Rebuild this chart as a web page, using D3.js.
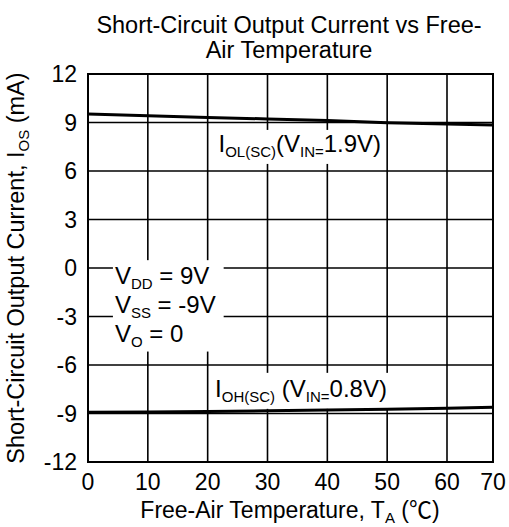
<!DOCTYPE html>
<html>
<head>
<meta charset="utf-8">
<script src="https://cdn.jsdelivr.net/npm/d3@7"></script>
<style>
  body { margin: 0; background: #fff; }
  svg text { font-family: "Liberation Sans", Arial, sans-serif; fill: #000; }
</style>
</head>
<body>
<svg width="509" height="527"></svg>
<script>
// values
var temps = [0, 10, 20, 30, 40, 50, 60, 70];
var iolValues = [9.53, 9.42, 9.31, 9.22, 9.12, 8.98, 8.91, 8.85];   // I_OL(SC), V_IN = 1.9V
var iohValues = [-8.92, -8.90, -8.87, -8.83, -8.79, -8.73, -8.68, -8.62]; // I_OH(SC), V_IN = 0.8V
var xTicks = [0, 10, 20, 30, 40, 50, 60, 70];
var yTicks = [-12, -9, -6, -3, 0, 3, 6, 9, 12];

var svg = d3.select("svg");

// the last decade on the original x axis is squeezed, so the scale is piecewise
var x = d3.scaleLinear().domain([0, 60, 70]).range([88, 447, 493]);
var y = d3.scaleLinear().domain([-12, 12]).range([462, 74]);

var grid = svg.append("g");
var notes = svg.append("g");
var lines = svg.append("g");

// grid
grid.selectAll(".vgrid")
  .data(xTicks.slice(1, -1))
  .enter().append("line")
  .attr("x1", d => x(d)).attr("x2", d => x(d))
  .attr("y1", y(12)).attr("y2", y(-12))
  .attr("stroke", "#000").attr("stroke-width", 1.6);

grid.selectAll(".hgrid")
  .data(yTicks.slice(1, -1))
  .enter().append("line")
  .attr("x1", x(0)).attr("x2", x(70))
  .attr("y1", d => y(d)).attr("y2", d => y(d))
  .attr("stroke", "#000").attr("stroke-width", 1.6);

// tick labels
svg.selectAll(".ylab")
  .data(yTicks)
  .enter().append("text")
  .attr("x", x(0) - 11)
  .attr("y", d => y(d))
  .attr("dy", "0.36em")
  .attr("text-anchor", "end")
  .attr("font-size", 23)
  .text(d => d);

svg.selectAll(".xlab")
  .data(xTicks)
  .enter().append("text")
  .attr("x", d => x(d))
  .attr("y", 490)
  .attr("text-anchor", "middle")
  .attr("font-size", 23)
  .text(d => d);

// rich text helper: parts with sub:true are subscripts
function richText(g, px, py, parts, anchor, size) {
  size = size || 24;
  var t = g.append("text")
    .attr("x", px).attr("y", py)
    .attr("font-size", size)
    .attr("text-anchor", anchor || "start");
  var down = false;
  parts.forEach(function(p) {
    var s = t.append("tspan").text(p.t);
    if (p.font) s.style("font-family", p.font);
    if (p.sub && !down) { s.attr("font-size", 15).attr("dy", 5); down = true; }
    else if (p.sub) { s.attr("font-size", 15); }
    else if (down) { s.attr("dy", -5); down = false; }
  });
  return t;
}

function boxBehind(g, nodes, padL, padR, padT, padB) {
  var x0 = 1e9, y0 = 1e9, x1 = -1e9, y1 = -1e9;
  nodes.forEach(function(n) {
    var b = n.node().getBBox();
    x0 = Math.min(x0, b.x); y0 = Math.min(y0, b.y);
    x1 = Math.max(x1, b.x + b.width); y1 = Math.max(y1, b.y + b.height);
  });
  g.insert("rect", ":first-child")
    .attr("x", x0 - padL).attr("y", y0 - padT)
    .attr("width", x1 - x0 + padL + padR)
    .attr("height", y1 - y0 + padT + padB)
    .attr("fill", "#fff");
}

// annotations
var g1 = notes.append("g");
var t1 = richText(g1, x(35.4), y(7.18), [
  {t: "I"}, {t: "OL(SC)", sub: true}, {t: "(V"}, {t: "IN=", sub: true}, {t: "1.9V)"}
], "middle");
boxBehind(g1, [t1], 3, 3, 0, 4);

var g2 = notes.append("g");
var t2 = richText(g2, x(35.6), y(-7.97), [
  {t: "I"}, {t: "OH(SC)", sub: true}, {t: " (V"}, {t: "IN=", sub: true}, {t: "0.8V)"}
], "middle");
boxBehind(g2, [t2], 5, 2, 2, 4);

var g3 = notes.append("g");
var s1 = richText(g3, x(4.5), y(-1.0), [{t: "V"}, {t: "DD", sub: true}, {t: " = 9V"}]);
var s2 = richText(g3, x(4.5), y(-2.8), [{t: "V"}, {t: "SS", sub: true}, {t: " = -9V"}]);
var s3 = richText(g3, x(4.5), y(-4.55), [{t: "V"}, {t: "O", sub: true}, {t: " = 0"}]);
boxBehind(g3, [s1, s2, s3], 2, 8, 2, 2);

// data lines
var line = d3.line().x((d, i) => x(temps[i])).y(d => y(d));
lines.append("path").datum(iolValues)
  .attr("d", line).attr("fill", "none")
  .attr("stroke", "#000").attr("stroke-width", 3);
lines.append("path").datum(iohValues)
  .attr("d", line).attr("fill", "none")
  .attr("stroke", "#000").attr("stroke-width", 3);

// frame
svg.append("rect")
  .attr("x", x(0)).attr("y", y(12))
  .attr("width", x(70) - x(0)).attr("height", y(-12) - y(12))
  .attr("fill", "none").attr("stroke", "#000").attr("stroke-width", 2);

// titles
var title = svg.append("text")
  .attr("text-anchor", "middle")
  .attr("font-size", 23.5);
title.append("tspan").attr("x", 289).attr("y", 33).text("Short-Circuit Output Current vs Free-");
title.append("tspan").attr("x", 289).attr("y", 58).text("Air Temperature");

richText(svg, 290, 518, [
  {t: "Free-Air Temperature, T"}, {t: "A", sub: true}, {t: " ("},
  {t: "\u2103", font: "'Noto Sans CJK SC'"}, {t: ")"}
], "middle", 23);

var yt = richText(svg, 0, 0, [
  {t: "Short-Circuit Output Current, I"}, {t: "OS", sub: true}, {t: " (mA)"}
], "middle", 23.5);
yt.attr("transform", "translate(24," + y(0) + ") rotate(-90)");
</script>
</body>
</html>
